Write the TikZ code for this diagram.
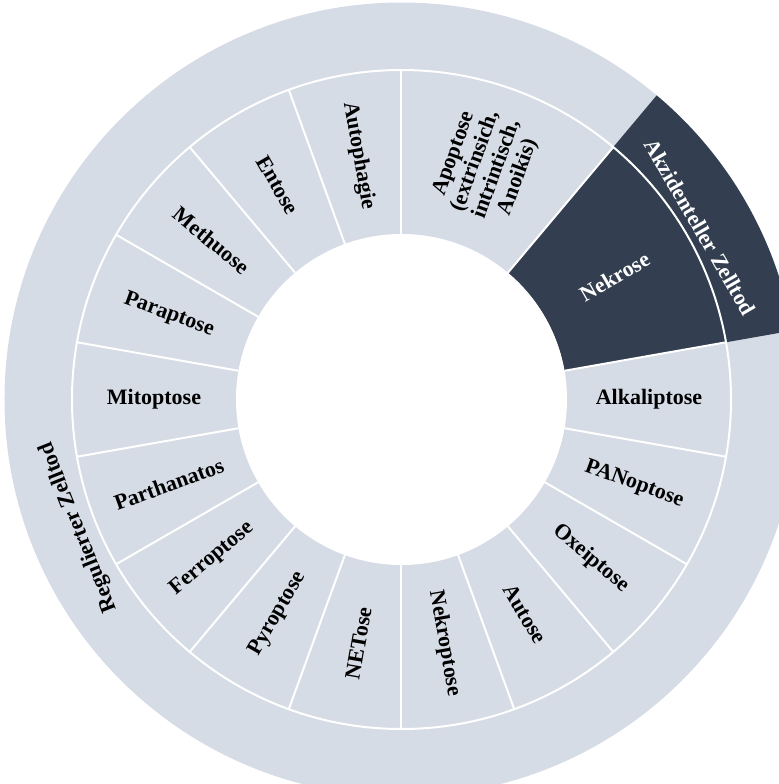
\documentclass[tikz,border=0pt]{standalone}
\usepackage{fontspec}
\setmainfont{Liberation Serif}
\definecolor{hellgrau}{HTML}{D6DCE5}
\definecolor{dunkel}{HTML}{333F50}
\begin{document}
\begin{tikzpicture}[x=0.5pt,y=0.5pt,
	lbl/.style={font=\bfseries\fontsize{11}{11.4}\selectfont,align=center,inner sep=0pt},
	trenn/.style={white,line width=1pt}]
	\def\rInnen{165.5} % Innenradius
	\def\rMitte{329.5}
	\def\rAussen{397}
	\clip (-401.5,-384.5) rectangle (377.5,399.5); % Bildrand
	
	\fill[hellgrau] (0,0) circle[radius=\rAussen];
	\fill[dunkel] (10:\rInnen) arc[start angle=10,end angle=50,radius=\rInnen]
		-- (50:\rAussen) arc[start angle=50,end angle=10,radius=\rAussen] -- cycle;
	\fill[white] (0,0) circle[radius=\rInnen];
	
	\draw[trenn] (0,0) circle[radius=\rMitte];
	\foreach \w in {90,50,10,-10,-30,...,-270}
		\draw[trenn] (\w:\rInnen) -- (\w:\rMitte);
	
	% Beschriftung innerer Ring
	\foreach \w/\d/\n/\t in {
		0/0/alk/Alkaliptose, -20/-20/pan/PANoptose, -40/-40/oxe/Oxeiptose,
		-60/-60/aut/Autose, -80/-80/nkp/Nekroptose, -100/80/net/NETose,
		-120/60/pyr/Pyroptose, -140/40/fer/Ferroptose, -160/20/par/Parthanatos,
		180/0/mit/Mitoptose, 160/-20/ppt/Paraptose, 140/-40/met/Methuose,
		120/-60/ent/Entose, 100/-80/aph/Autophagie}
		\node[lbl,rotate=\d] (\n) at (\w:247.5) {\t};
	\node[lbl,rotate=70] (apo) at (70:249) {Apoptose\\(extrinsich,\\intrintisch,\\Anoikis)};
	\node[lbl,rotate=30,text=white] (nek) at (30:246) {Nekrose};
	
	% Beschriftung aeusserer Ring
	\node[lbl,rotate=-60,text=white] (akz) at (30:345) {Akzidenteller Zelltod};
	\node[lbl,rotate=111.6] (reg) at (201.6:347) {Regulierter Zelltod};
\end{tikzpicture}
\end{document}
